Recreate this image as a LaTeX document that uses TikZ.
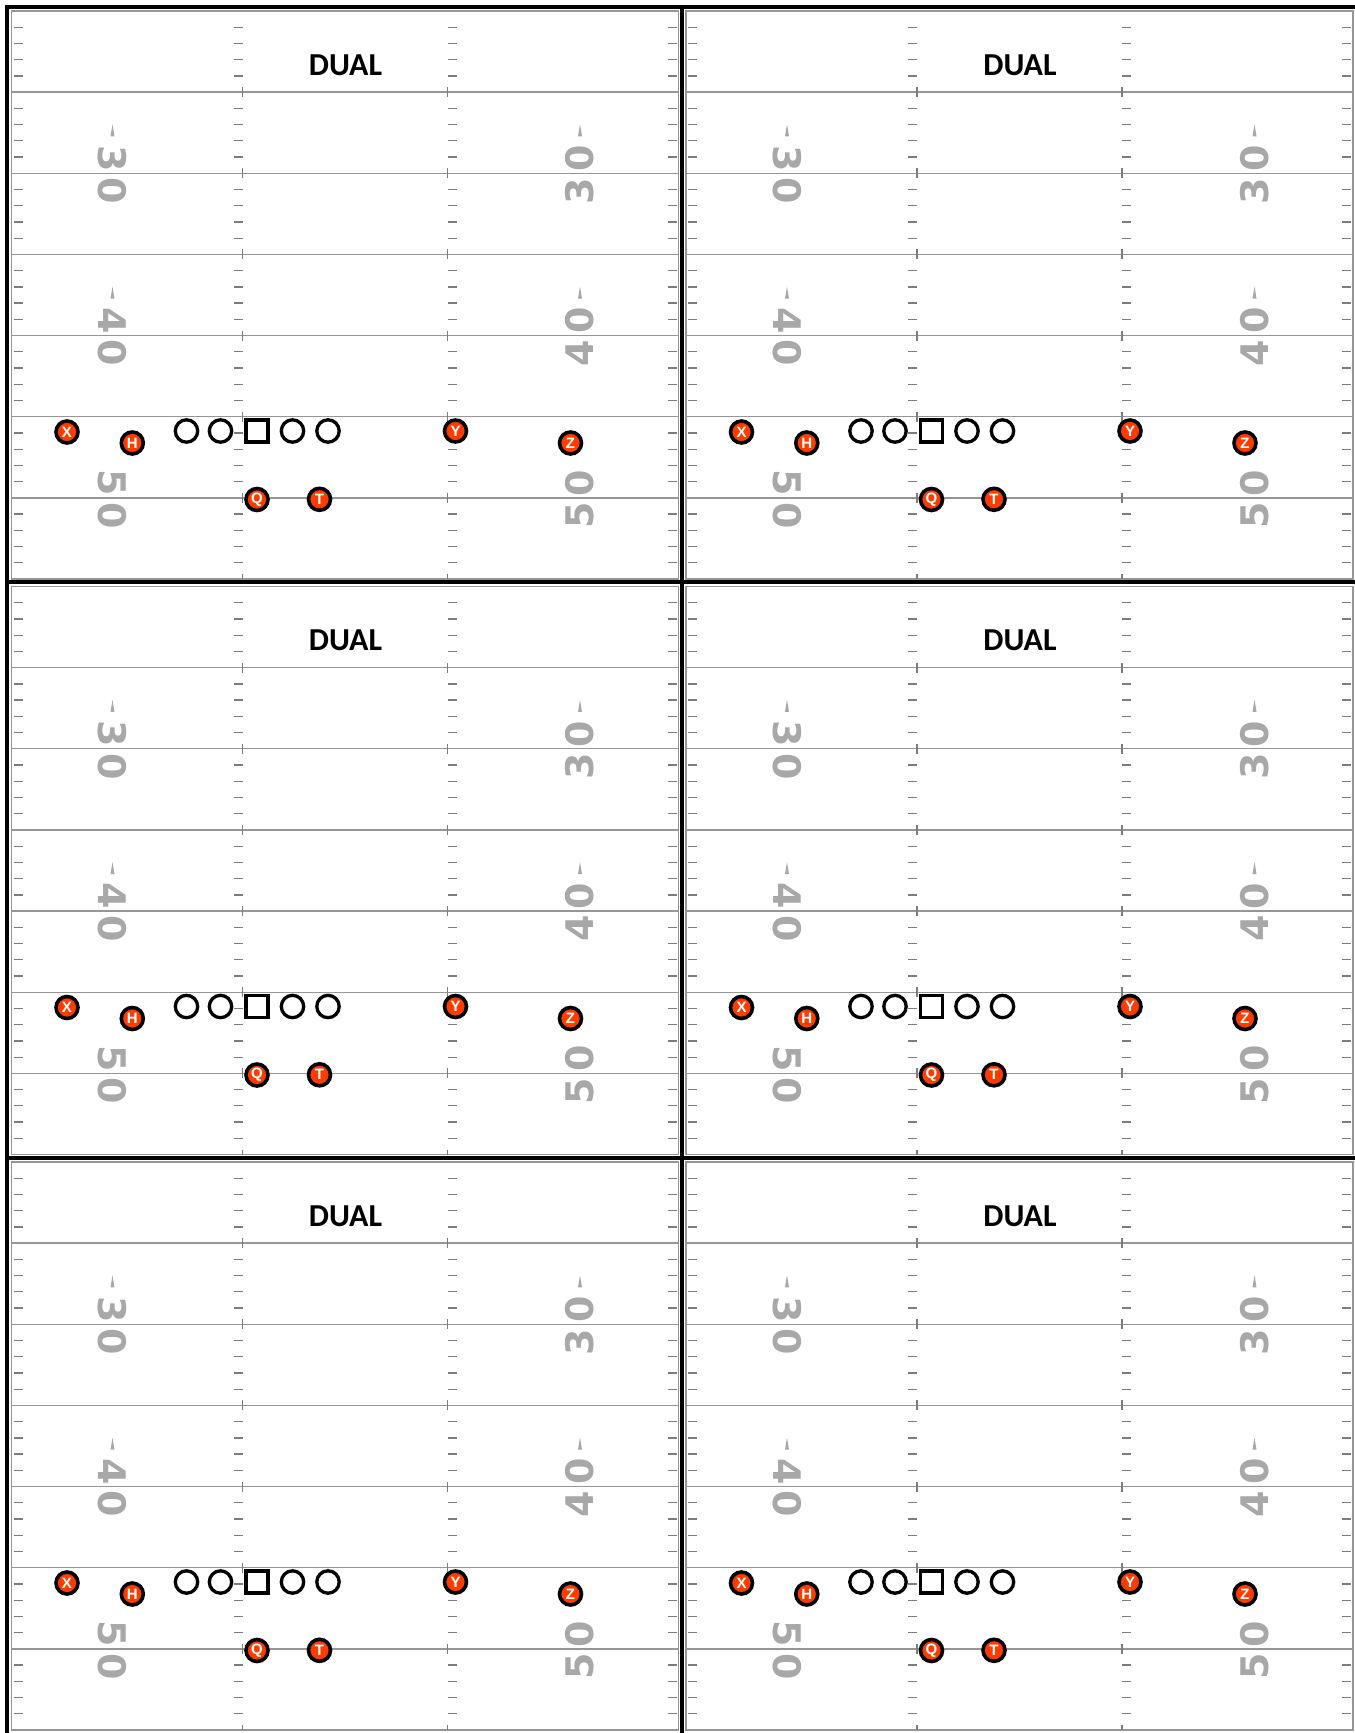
\documentclass[tikz,border=0pt]{standalone}
\usepackage{fontspec}
\setmainfont{Liberation Sans}
\newfontfamily\dualfont{Carlito}
\newfontfamily\numfont{DejaVu Sans}
\definecolor{plorange}{RGB}{255,60,0}
\definecolor{yardgray}{RGB}{150,150,150}
\definecolor{hashgray}{RGB}{125,125,125}
\definecolor{numgray}{RGB}{168,168,168}
\begin{document}
\begin{tikzpicture}[x=1pt,y=-1pt,
  yardline/.style={draw=yardgray,line width=1.4},
  fieldedge/.style={draw=yardgray,line width=1.5},
  hashmark/.style={draw=hashgray,line width=1.3},
  fieldnum/.style={text=numgray,font=\numfont\bfseries\fontsize{38}{38}\selectfont,inner sep=0},
  arrowtri/.style={fill=numgray,draw=none},
  offplayer/.style={circle,fill=plorange,draw=black,line width=3.6,minimum size=22,inner sep=0,text=white,font=\bfseries\fontsize{15}{15}\selectfont},
  lineman/.style={circle,draw=black,fill=white,line width=3.3,minimum size=22.4,inner sep=0},
  snapper/.style={rectangle,draw=black,fill=white,line width=3.1,minimum size=22,inner sep=0},
  playtitle/.style={font=\dualfont\bfseries\fontsize{32}{32}\selectfont,inner sep=0},
  panelrule/.style={draw=black,line width=4}
]
\useasboundingbox (0,0) rectangle (1355,1733);
\fill[white] (0,0) rectangle (1355,1733);
\foreach \c in {0,1}{
 \foreach \r in {0,1,2}{
  \begin{scope}[shift={(11.5+674.5*\c,11+575.5*\r)}]
   % field edge
   \draw[fieldedge] (0,0) rectangle (667,568);
   % yard lines
   \foreach \k in {1,...,6}{
     \draw[yardline] (0,\k*81.14) -- (667,\k*81.14);
     \draw[hashmark] (231,\k*81.14-5) -- (231,\k*81.14+5);
     \draw[hashmark] (436,\k*81.14-5) -- (436,\k*81.14+5);
   }
   \draw[hashmark] (231,568) -- (231,563);
   \draw[hashmark] (436,568) -- (436,563);
   % hash marks
   \foreach \k in {1,2,3,4,6,7,8,9,11,12,13,14,16,17,18,19,21,22,23,24,26,27,28,29,31,32,33,34}{
     \draw[hashmark] (2,\k*16.229) -- (11,\k*16.229);
     \draw[hashmark] (222,\k*16.229) -- (231,\k*16.229);
     \draw[hashmark] (436,\k*16.229) -- (445,\k*16.229);
     \draw[hashmark] (656,\k*16.229) -- (665,\k*16.229);
   }
   % field numbers
   \foreach \k/\a/\b in {2/3/0,4/4/0,6/5/0}{
     \node[fieldnum,rotate=-90] (nla\c\r\k) at (101,\k*81.14-15) {\a};
     \node[fieldnum,rotate=-90] (nlb\c\r\k) at (101,\k*81.14+17.5) {\b};
     \node[fieldnum,rotate=90] (nra\c\r\k) at (568.5,\k*81.14+17.5) {\a};
     \node[fieldnum,rotate=90] (nrb\c\r\k) at (568.5,\k*81.14-15) {\b};
   }
   \foreach \k in {2,4}{
     \fill[arrowtri] (101,\k*81.14-49) -- (103,\k*81.14-37) -- (99,\k*81.14-37) -- cycle;
     \fill[arrowtri] (568.5,\k*81.14-49) -- (570.5,\k*81.14-37) -- (566.5,\k*81.14-37) -- cycle;
   }
   % title
   \node[playtitle] (title\c\r) at (334,54) {DUAL};
   % offensive line
   \node[lineman] (lt\c\r) at (175,420) {};
   \node[lineman] (lg\c\r) at (209,420) {};
   \node[snapper] (ce\c\r) at (245.5,420) {};
   \node[lineman] (rg\c\r) at (281,420) {};
   \node[lineman] (rt\c\r) at (316.5,420) {};
   % skill players
   \node[offplayer] (X\c\r) at (55.5,421) {X};
   \node[offplayer] (H\c\r) at (120.8,432) {H};
   \node[offplayer] (Y\c\r) at (444,420) {Y};
   \node[offplayer] (Z\c\r) at (559,432) {Z};
   \node[offplayer] (Q\c\r) at (245.5,488.5) {Q};
   \node[offplayer] (T\c\r) at (308,488.3) {T};
  \end{scope}
 }
}
% black panel rules
\draw[panelrule] (5,6.5) -- (1355,6.5);
\draw[panelrule] (5,582) -- (1355,582);
\draw[panelrule] (5,1157.5) -- (1355,1157.5);
\draw[panelrule] (7,4.5) -- (7,1733);
\draw[panelrule] (681.5,4.5) -- (681.5,1733);
\end{tikzpicture}
\end{document}
